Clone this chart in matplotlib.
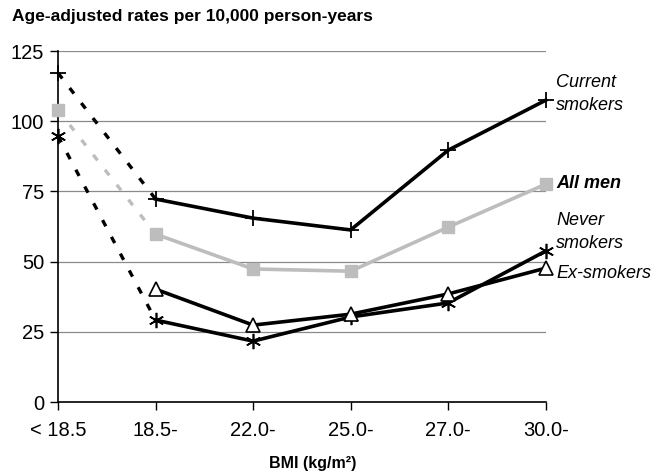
import matplotlib
matplotlib.use("Agg")
import matplotlib.pyplot as plt
import numpy as np

plt.rcParams['font.family'] = ['Liberation Sans', 'DejaVu Sans']

categories = ["< 18.5", "18.5-", "22.0-", "25.0-", "27.0-", "30.0-"]
current_smokers = [117.2, 72.3, 65.5, 61.3, 89.7, 107.5]
all_men = [104.0, 59.8, 47.4, 46.6, 62.3, 77.6]
never_smokers = [94.7, 29.2, 21.7, 30.3, 35.3, 53.8]
ex_smokers = [None, 40.2, 27.4, 31.3, 38.5, 47.7]
y_ticks = [0, 25, 50, 75, 100, 125]

fig = plt.figure(figsize=(6.52, 4.73), dpi=100)
ax = fig.add_axes([0.089, 0.150, 0.748, 0.742])

x = np.arange(len(categories))

def draw(values, color, marker, ms, mfc, mew, dashed_color=None):
    vals = np.array([np.nan if v is None else v for v in values], dtype=float)
    # solid part from the second category on
    ax.plot(x[1:], vals[1:], color=color, lw=2.6, marker=marker, ms=ms,
            mfc=mfc, mec=color if mfc != 'white' else 'black', mew=mew,
            zorder=3, clip_on=False)
    if not np.isnan(vals[0]):
        ax.plot(x[:2], vals[:2], color=dashed_color or color, lw=2.4,
                linestyle=(0, (2.1, 3.6)), zorder=2, clip_on=False)
        ax.plot(x[0], vals[0], marker=marker, ms=ms, mfc=mfc,
                mec=color, mew=mew, zorder=3, clip_on=False, ls='none')

draw(current_smokers, 'black', '+', 11, 'black', 1.3)
draw(all_men, '#bdbdbd', 's', 8, '#bdbdbd', 1.0)
draw(never_smokers, 'black', (6, 2, 0), 11, 'black', 1.2)
draw(ex_smokers, 'black', '^', 10, 'white', 1.2)

ax.set_xlim(0, 5)
ax.set_ylim(0, 125)
ax.set_yticks(y_ticks)
ax.set_xticks(x)
ax.set_xticklabels(categories)
ax.tick_params(axis='both', labelsize=14.5, length=6, width=1.0, direction='out', colors='black')
ax.tick_params(axis='x', pad=8)
ax.tick_params(axis='y', pad=4)
for yv in y_ticks[1:]:
    ax.axhline(yv, color='#8a8a8a', lw=0.9, zorder=1)
for s in ['top', 'right']:
    ax.spines[s].set_visible(False)
ax.spines['left'].set_linewidth(1.2)
ax.spines['bottom'].set_linewidth(1.2)

fig.text(0.018, 1 - 17 / 473, "Age-adjusted rates per 10,000 person-years",
         fontsize=12.5, fontweight='bold', va='center', ha='left')
fig.text(0.479, 1 - 463 / 473, "BMI (kg/m\u00b2)", fontsize=11.5, fontweight='bold',
         va='center', ha='center')

label_x = 0.853
def label(ypix, text, bold=False):
    fig.text(label_x, 1 - ypix / 473, text, fontsize=13, style='italic',
             fontweight='bold' if bold else 'normal', va='center', ha='left',
             linespacing=1.45)

label(94, "Current\nsmokers")
label(183, "All men", bold=True)
label(232, "Never\nsmokers")
label(273, "Ex-smokers")

fig.savefig("out.png", dpi=100)
